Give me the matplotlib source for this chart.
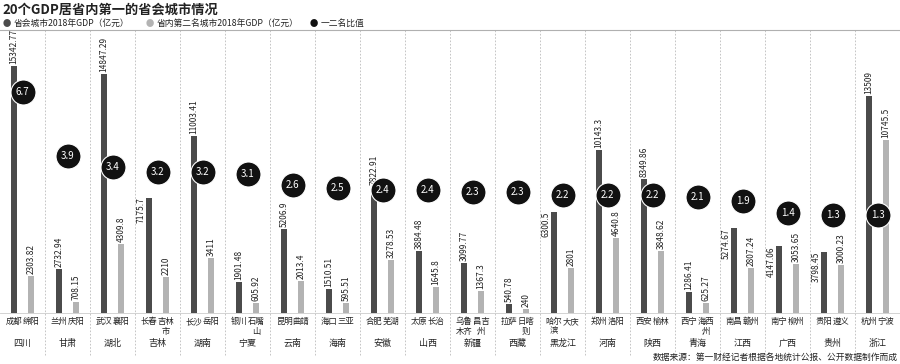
import numpy as np
import matplotlib.pyplot as plt
import matplotlib.transforms as mtransforms

plt.rcParams['font.family'] = ['Noto Sans CJK SC', 'DejaVu Sans']

provinces = ['四川', '甘肃', '湖北', '吉林', '湖南', '宁夏', '云南', '海南', '安徽', '山西',
             '新疆', '西藏', '黑龙江', '河南', '陕西', '青海', '江西', '广西', '贵州', '浙江']
capitals = ['成都', '兰州', '武汉', '长春', '长沙', '银川', '昆明', '海口', '合肥', '太原',
            '乌鲁\n木齐', '拉萨', '哈尔\n滨', '郑州', '西安', '西宁', '南昌', '南宁', '贵阳', '杭州']
seconds = ['绵阳', '庆阳', '襄阳', '吉林\n市', '岳阳', '石嘴\n山', '曲靖', '三亚', '芜湖', '长治',
           '昌吉\n州', '日喀\n则', '大庆', '洛阳', '榆林', '海西\n州', '赣州', '柳州', '遵义', '宁波']
gdp_cap = [15342.77, 2732.94, 14847.29, 7175.7, 11003.41, 1901.48, 5206.9, 1510.51, 7822.91, 3884.48,
           3099.77, 540.78, 6300.5, 10143.3, 8349.86, 1286.41, 5274.67, 4147.06, 3798.45, 13509]
gdp_sec = [2303.82, 708.15, 4309.8, 2210, 3411, 605.92, 2013.4, 595.51, 3278.53, 1645.8,
           1367.3, 240, 2801, 4640.8, 3848.62, 625.27, 2807.24, 3053.65, 3000.23, 10745.5]
lab_cap = ['15342.77', '2732.94', '14847.29', '7175.7', '11003.41', '1901.48', '5206.9', '1510.51',
           '7822.91', '3884.48', '3099.77', '540.78', '6300.5', '10143.3', '8349.86', '1286.41',
           '5274.67', '4147.06', '3798.45', '13509']
lab_sec = ['2303.82', '708.15', '4309.8', '2210', '3411', '605.92', '2013.4', '595.51', '3278.53',
           '1645.8', '1367.3', '240', '2801', '4640.8', '3848.62', '625.27', '2807.24', '3053.65',
           '3000.23', '10745.5']
ratio = [6.7, 3.9, 3.4, 3.2, 3.2, 3.1, 2.6, 2.5, 2.4, 2.4,
         2.3, 2.3, 2.2, 2.2, 2.2, 2.1, 1.9, 1.4, 1.3, 1.3]
ratio_txt = ['6.7', '3.9', '3.4', '3.2', '3.2', '3.1', '2.6', '2.5', '2.4', '2.4',
             '2.3', '2.3', '2.2', '2.2', '2.2', '2.1', '1.9', '1.4', '1.3', '1.3']

# labels that sit beside the bar because the circle is in the way
left_labels = {3, 12, 16, 17, 18}

dark = '#4b4b4b'
light = '#b3b3b3'

fig = plt.figure(figsize=(9, 3.64), dpi=100)
ax = fig.add_axes([0, 0.14, 1, 0.7775])
n = len(provinces)
x = np.arange(n) + 0.5
off = 0.19
w = 0.135

ax.bar(x - off, gdp_cap, w, color=dark, zorder=2)
ax.bar(x + off, gdp_sec, w, color=light, zorder=2)
ax.set_xlim(0, n)
ax.set_ylim(0, 17580)
ax.set_xticks([])
ax.set_yticks([])
for s in ['left', 'right']:
    ax.spines[s].set_visible(False)
ax.spines['top'].set_color('#b0b0b0')
ax.spines['top'].set_linewidth(0.8)
ax.spines['bottom'].set_color('#cccccc')
ax.spines['bottom'].set_linewidth(0.6)

ypix = 17580 / 283.0
for i in range(n):
    if i in left_labels:
        ax.text(x[i] - off - 0.17, gdp_cap[i], lab_cap[i], rotation=90, ha='center', va='top',
                fontsize=6, color='#222222', zorder=4)
    else:
        ax.text(x[i] - off, gdp_cap[i] + 2 * ypix, lab_cap[i], rotation=90, ha='center', va='bottom',
                fontsize=6, color='#222222', zorder=4)
    ax.text(x[i] + off, gdp_sec[i] + 2 * ypix, lab_sec[i], rotation=90, ha='center', va='bottom',
            fontsize=6, color='#222222', zorder=4)

trans = mtransforms.blended_transform_factory(ax.transData, ax.transAxes)
for i in range(1, n):
    ax.plot([i, i], [1, -0.15], transform=trans, color='#bbbbbb', lw=0.6,
            ls=(0, (2, 2)), clip_on=False, zorder=1)
for i in range(n):
    ax.text(x[i] - off, -0.015, capitals[i], transform=trans, ha='center', va='top',
            fontsize=6, linespacing=1.05, color='#222222')
    ax.text(x[i] + off, -0.015, seconds[i], transform=trans, ha='center', va='top',
            fontsize=6, linespacing=1.05, color='#222222')
    ax.text(x[i], -0.106, provinces[i], transform=trans, ha='center', va='center',
            fontsize=6.5, color='#222222')

ax2 = ax.twinx()
ax2.set_ylim(-3.0, 9.42)
ax2.set_yticks([])
for s in ax2.spines.values():
    s.set_visible(False)
ax2.plot(x, ratio, 'o', ms=18, color='#111111', mec='white', mew=0.8, zorder=5)
for i in range(n):
    ax2.text(x[i], ratio[i], ratio_txt[i], ha='center', va='center', color='white',
             fontsize=7, zorder=6)

fig.text(0.003, 0.972, '20个GDP居省内第一的省会城市情况', fontsize=9.5, fontweight='bold',
         va='center', ha='left', color='#222222')
fig.text(0.003, 0.935, '●', fontsize=6, color=dark, va='center', ha='left')
fig.text(0.015, 0.935, '省会城市2018年GDP（亿元）', fontsize=6.3, color='#222222', va='center')
fig.text(0.162, 0.935, '●', fontsize=6, color=light, va='center', ha='left')
fig.text(0.174, 0.935, '省内第二名城市2018年GDP（亿元）', fontsize=6.3, color='#222222', va='center')
fig.text(0.344, 0.935, '●', fontsize=6, color='#111111', va='center', ha='left')
fig.text(0.356, 0.935, '一二名比值', fontsize=6.3, color='#222222', va='center')

fig.text(0.997, 0.018, '数据来源：第一财经记者根据各地统计公报、公开数据制作而成', fontsize=6.3,
         ha='right', va='center', color='#222222')

fig.savefig('out.png', dpi=100, facecolor='white')
